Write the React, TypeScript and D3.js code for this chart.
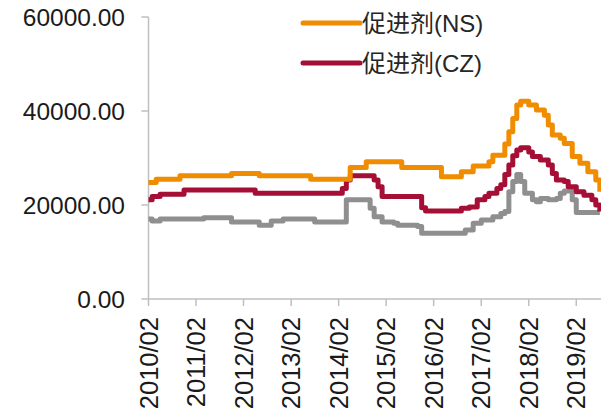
import React, { useEffect, useRef } from "react";
import * as d3 from "d3";

// change points (month, value) - drawn as steps
const nsData: [string, number][] = [
  ["2010/02", 24800], ["2010/04", 25500], ["2010/10", 26200], ["2011/11", 26700],
  ["2012/06", 26200], ["2013/07", 25500], ["2014/05", 28000], ["2014/09", 29200],
  ["2015/06", 28000], ["2016/04", 26000], ["2016/09", 27100], ["2016/12", 28300],
  ["2017/04", 29200], ["2017/05", 30600], ["2017/08", 33000], ["2017/09", 35600],
  ["2017/10", 38400], ["2017/11", 41300], ["2017/12", 42100], ["2018/02", 41300],
  ["2018/04", 40200], ["2018/06", 39100], ["2018/07", 37000], ["2018/08", 34900],
  ["2018/10", 34200], ["2018/11", 33100], ["2019/01", 30300], ["2019/03", 28900],
  ["2019/05", 27100], ["2019/07", 25300], ["2019/08", 22800],
];

const czData: [string, number][] = [
  ["2010/02", 21100], ["2010/03", 21800], ["2010/05", 22300], ["2010/11", 23200],
  ["2012/05", 22500], ["2014/03", 23500], ["2014/04", 25300], ["2014/05", 26200],
  ["2014/11", 25300], ["2014/12", 23900], ["2015/01", 21800], ["2015/11", 19400],
  ["2015/12", 18700], ["2016/09", 19300], ["2016/11", 19600], ["2017/01", 21100],
  ["2017/03", 21800], ["2017/04", 22500], ["2017/06", 23500], ["2017/07", 24300],
  ["2017/08", 26500], ["2017/09", 28500], ["2017/10", 30500], ["2017/11", 31700],
  ["2017/12", 32200], ["2018/02", 31300], ["2018/03", 30300], ["2018/05", 29600],
  ["2018/07", 28500], ["2018/08", 26700], ["2018/09", 25300], ["2018/11", 25000],
  ["2018/12", 23900], ["2019/02", 22800], ["2019/04", 22100], ["2019/06", 21100],
  ["2019/07", 20000], ["2019/08", 18600],
];

const greyData: [string, number][] = [
  ["2010/02", 17000], ["2010/03", 16600], ["2010/05", 17000], ["2011/04", 17300],
  ["2011/11", 16400], ["2012/06", 15700], ["2012/09", 16600], ["2012/12", 17000],
  ["2013/08", 16400], ["2014/04", 21100], ["2014/10", 19300], ["2014/11", 17500],
  ["2015/01", 16400], ["2015/04", 16100], ["2015/05", 15700], ["2015/10", 15400],
  ["2015/11", 14000], ["2016/10", 14700], ["2016/12", 16100], ["2017/02", 16800],
  ["2017/05", 17500], ["2017/07", 18200], ["2017/08", 18600], ["2017/09", 22800],
  ["2017/10", 25000], ["2017/11", 26500], ["2017/12", 25000], ["2018/01", 22500],
  ["2018/03", 21100], ["2018/04", 20700], ["2018/05", 21400], ["2018/07", 21100],
  ["2018/09", 21400], ["2018/10", 22500], ["2018/11", 23000], ["2019/01", 21100],
  ["2019/02", 18400], ["2019/08", 18400],
];

const xTicks = ["2010/02", "2011/02", "2012/02", "2013/02", "2014/02", "2015/02",
  "2016/02", "2017/02", "2018/02", "2019/02"];
const yTicks = [0, 20000, 40000, 60000];

const series = [
  { name: "促进剂(NS)", data: nsData, color: "#F08C00", legend: true },
  { name: "促进剂(CZ)", data: czData, color: "#A50E35", legend: true },
  { name: "", data: greyData, color: "#8F8F8F", legend: false },
];

const parse = d3.timeParse("%Y/%m");
const FONT = "'Liberation Sans', Arial, 'Noto Sans CJK SC', sans-serif";

const App = () => {
  const svgRef: any = useRef();

  useEffect(() => {
    document.body.style.margin = "0";
    const width = 601;
    const height = 412;
    const svg = d3.select(svgRef.current);
    svg.selectAll("*").remove();
    svg.attr("width", width).attr("height", height);

    const x = d3
      .scaleTime()
      .domain([parse("2010/02") as Date, new Date(2019, 7, 10)])
      .range([148.5, 601]);
    const y = d3.scaleLinear().domain([0, 60000]).range([299, 17]);

    // axes
    const axisColor = "#BFBFBF";
    svg.append("line")
      .attr("x1", x.range()[0]).attr("x2", x.range()[0])
      .attr("y1", y(0)).attr("y2", y(60000))
      .attr("stroke", axisColor).attr("stroke-width", 1.5);
    svg.append("line")
      .attr("x1", x.range()[0]).attr("x2", width)
      .attr("y1", y(0)).attr("y2", y(0))
      .attr("stroke", axisColor).attr("stroke-width", 1.5);

    svg.selectAll(".ytick")
      .data(yTicks)
      .join("line")
      .attr("class", "ytick")
      .attr("x1", x.range()[0] - 7).attr("x2", x.range()[0])
      .attr("y1", (d) => y(d)).attr("y2", (d) => y(d))
      .attr("stroke", axisColor).attr("stroke-width", 1.5);
    svg.selectAll(".ylabel")
      .data(yTicks)
      .join("text")
      .attr("class", "ylabel")
      .attr("x", 125)
      .attr("y", (d) => y(d))
      .attr("dy", "0.36em")
      .attr("text-anchor", "end")
      .attr("font-family", FONT)
      .attr("font-size", 24.5)
      .attr("fill", "#1a1a1a")
      .text((d) => d3.format(".2f")(d));

    svg.selectAll(".xtick")
      .data(xTicks)
      .join("line")
      .attr("class", "xtick")
      .attr("x1", (d) => x(parse(d) as Date)).attr("x2", (d) => x(parse(d) as Date))
      .attr("y1", y(0)).attr("y2", y(0) + 7)
      .attr("stroke", axisColor).attr("stroke-width", 1.5);
    svg.selectAll(".xlabel")
      .data(xTicks)
      .join("text")
      .attr("class", "xlabel")
      .attr("transform", (d) => `translate(${x(parse(d) as Date)},${y(0) + 18}) rotate(-90)`)
      .attr("dy", "0.36em")
      .attr("text-anchor", "end")
      .attr("font-family", FONT)
      .attr("font-size", 25.5)
      .attr("fill", "#1a1a1a")
      .text((d) => d);

    // lines (grey drawn first, underneath)
    const line = d3
      .line<[string, number]>()
      .x((d) => x(parse(d[0]) as Date))
      .y((d) => y(d[1]))
      .curve(d3.curveStepAfter);

    [...series].reverse().forEach((s) => {
      svg.append("path")
        .datum(s.data)
        .attr("d", line)
        .attr("fill", "none")
        .attr("stroke", s.color)
        .attr("stroke-width", 5)
        .attr("stroke-linejoin", "round");
    });

    // legend
    const legend = svg.selectAll(".legend")
      .data(series.filter((s) => s.legend))
      .join("g")
      .attr("class", "legend")
      .attr("transform", (_d, i) => `translate(303,${23 + i * 40})`);
    legend.append("line")
      .attr("x1", 0).attr("x2", 57)
      .attr("stroke", (d) => d.color)
      .attr("stroke-width", 5)
      .attr("stroke-linecap", "round");
    legend.append("text")
      .attr("x", 59)
      .attr("dy", "0.36em")
      .attr("font-family", FONT)
      .attr("font-size", 24)
      .attr("fill", "#262626")
      .text((d) => d.name);
  }, []);

  return <svg ref={svgRef}></svg>;
};

export default App;
